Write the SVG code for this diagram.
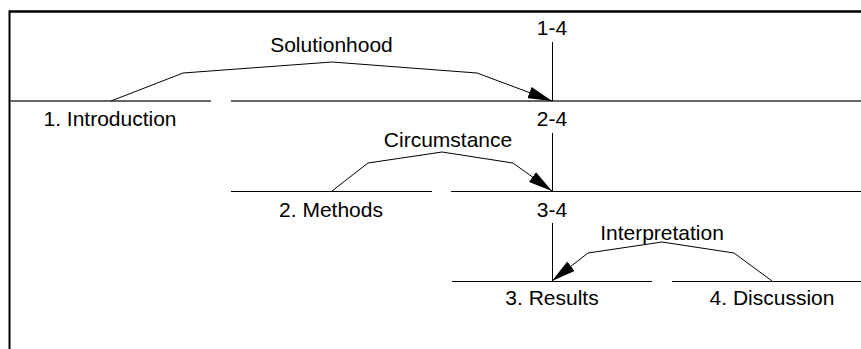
<svg xmlns="http://www.w3.org/2000/svg" width="861" height="349" viewBox="0 0 861 349">
<style>
text{font-family:"Liberation Sans",Arial,sans-serif;font-size:21px;fill:#000;text-anchor:middle}
.seg1{stroke:#666;stroke-width:2;fill:none}
.seg{stroke:#000;stroke-width:1;fill:none}
.arc{stroke:#000;stroke-width:1;fill:none}
.v{stroke:#000;stroke-width:1}
.frame{stroke:#000;fill:none}
</style>
<defs>
<marker id="ah" viewBox="0 0 24 12" refX="24" refY="6" markerWidth="24" markerHeight="12" markerUnits="userSpaceOnUse" orient="auto">
<path d="M0,0 L24,6 L0,12 Z" fill="#000"/>
</marker>
</defs>
<rect width="861" height="349" fill="#fff"/>
<line class="frame" x1="9" y1="11.5" x2="861" y2="11.5" stroke-width="2.5"/>
<line class="frame" x1="9.5" y1="10.5" x2="9.5" y2="349" stroke-width="2"/>

<g id="n1-4">
<line class="seg1" x1="231" y1="101" x2="861" y2="101"/>
<line class="v" x1="552.5" y1="42" x2="552.5" y2="101"/>
<text x="552" y="35">1-4</text>
</g>
<g id="n1">
<line class="seg1" x1="10" y1="101" x2="211" y2="101"/>
<text x="110" y="126">1. Introduction</text>
</g>
<g id="n2-4">
<line class="seg" x1="451" y1="191.5" x2="861" y2="191.5"/>
<line class="v" x1="552.5" y1="133" x2="552.5" y2="191"/>
<text x="552" y="126">2-4</text>
</g>
<g id="n2">
<line class="seg" x1="231" y1="191.5" x2="432" y2="191.5"/>
<text x="331" y="217">2. Methods</text>
</g>
<g id="n3-4">
<line class="v" x1="552.5" y1="223" x2="552.5" y2="281"/>
<text x="552" y="217">3-4</text>
</g>
<g id="n3">
<line class="seg" x1="452" y1="281.5" x2="652" y2="281.5"/>
<text x="552" y="305">3. Results</text>
</g>
<g id="n4">
<line class="seg" x1="672" y1="281.5" x2="861" y2="281.5"/>
<text x="772" y="305">4. Discussion</text>
</g>

<g id="connectors">
<polyline class="arc" points="111,101 183,73 332,62 477,73 552,101" marker-end="url(#ah)"/>
<text x="331.5" y="52">Solutionhood</text>
<polyline class="arc" points="332,191 368,163 442,152 513,163 552,191" marker-end="url(#ah)"/>
<text x="448" y="147">Circumstance</text>
<polyline class="arc" points="772,281 734,253 662,242 588,253 552,281" marker-end="url(#ah)"/>
<text x="662" y="240">Interpretation</text>
</g>
</svg>
